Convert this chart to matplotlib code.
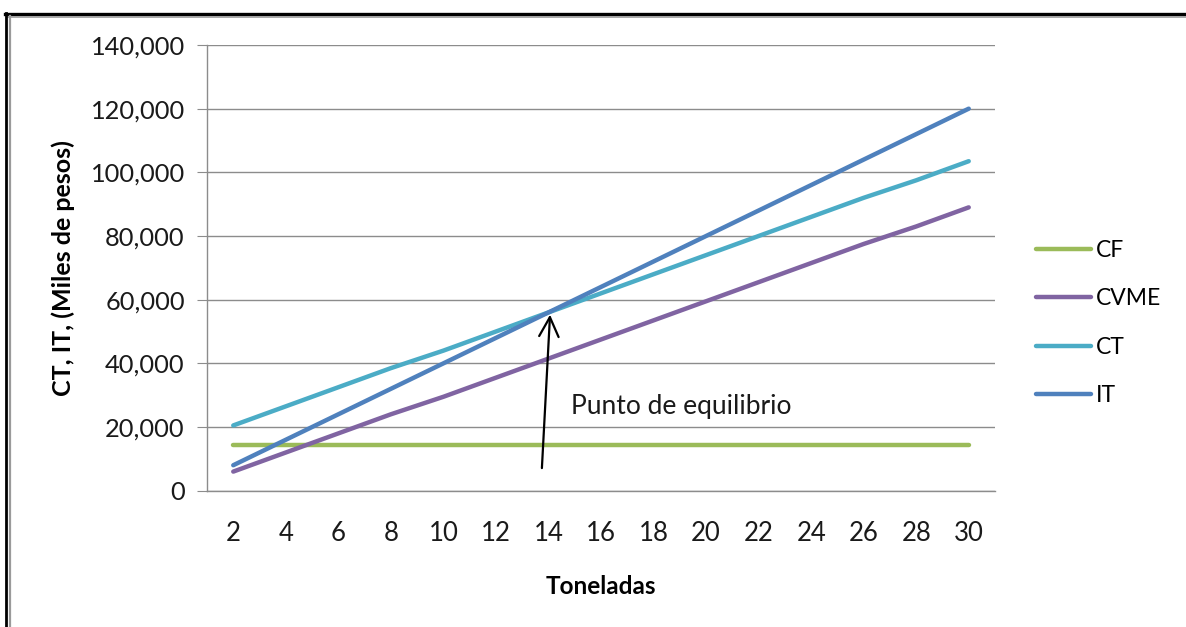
import matplotlib
matplotlib.use("Agg")
import matplotlib.pyplot as plt
from matplotlib.lines import Line2D
from matplotlib.ticker import FuncFormatter

# Toneladas producidas
toneladas = [2, 4, 6, 8, 10, 12, 14, 16, 18, 20, 22, 24, 26, 28, 30]

# Costos e ingresos (miles de pesos)
cf = [14500, 14500, 14500, 14500, 14500, 14500, 14500, 14500,
      14500, 14500, 14500, 14500, 14500, 14500, 14500]
cvme = [6000, 12000, 18000, 24000, 29500, 35500, 41500, 47500,
        53500, 59500, 65500, 71500, 77500, 83000, 89000]
ct = [20500, 26500, 32500, 38500, 44000, 50000, 56000, 62000,
      68000, 74000, 80000, 86000, 92000, 97500, 103500]
it = [8000, 16000, 24000, 32000, 40000, 48000, 56000, 64000,
      72000, 80000, 88000, 96000, 104000, 112000, 120000]

series_names = ["CF", "CVME", "CT", "IT"]
series_colors = ["#9BBB59", "#8064A2", "#4BACC6", "#4F81BD"]

y_ticks = [0, 20000, 40000, 60000, 80000, 100000, 120000, 140000]

FONT = "Lato"
plt.rcParams["font.family"] = [FONT, "DejaVu Sans"]

W, H = 1186, 627
fig = plt.figure(figsize=(W / 100, H / 100), dpi=100)
fig.patch.set_facecolor("white")

ax = fig.add_axes([207 / W, 1 - 490.7 / H, (995 - 207) / W, (490.7 - 45) / H])

for vals, name, col in zip([cf, cvme, ct, it], series_names, series_colors):
    ax.plot(toneladas, vals, color=col, lw=3.2, solid_capstyle="round",
            label=name, zorder=3)

ax.set_xlim(1, 31)
ax.set_ylim(0, 140000)
ax.set_xticks(toneladas)
ax.set_yticks(y_ticks)
ax.yaxis.set_major_formatter(FuncFormatter(lambda v, p: f"{int(v):,}"))

ax.grid(axis="y", color="#8c8c8c", lw=1.0, zorder=0)
ax.set_axisbelow(True)
for side in ["top", "right"]:
    ax.spines[side].set_visible(False)
ax.spines["left"].set_color("#8c8c8c")
ax.spines["bottom"].set_color("#8c8c8c")
ax.spines["left"].set_linewidth(1.0)
ax.spines["bottom"].set_linewidth(1.0)

ax.tick_params(axis="y", length=7, color="#8c8c8c", labelsize=18.3,
               labelcolor="#1a1a1a", pad=9)
ax.tick_params(axis="x", length=0, labelsize=18.5, labelcolor="#1a1a1a", pad=22)

ax.set_xlabel("Toneladas", fontsize=17.5, fontweight="bold", labelpad=21)
ax.set_ylabel("CT, IT, (Miles de pesos)", fontsize=18, fontweight="bold",
              labelpad=11)

# Punto de equilibrio
ax.annotate("", xy=(14.06, 55300), xytext=(13.75, 7100),
            arrowprops=dict(arrowstyle="->,head_length=0.7,head_width=0.35",
                            lw=1.6, color="black", mutation_scale=20,
                            shrinkA=0, shrinkB=0), zorder=5)
ax.text(14.85, 26300, "Punto de equilibrio", fontsize=19, color="#1a1a1a",
        va="center", ha="left")

handles = [Line2D([], [], color=c, lw=3.2, solid_capstyle="round")
           for c in series_colors]
fig.legend(handles, series_names, loc="center left",
           bbox_to_anchor=(1025 / W, 1 - 323 / H), frameon=False,
           fontsize=16.5, handlelength=2.4, handletextpad=0.2,
           labelspacing=1.2, borderpad=0)

# Frame around the chart
fig.add_artist(Line2D([5 / W, 1], [1 - 14 / H, 1 - 14 / H], color="black",
                      lw=2.4, transform=fig.transFigure))
fig.add_artist(Line2D([8 / W, 1], [1 - 17 / H, 1 - 17 / H], color="#9a9a9a",
                      lw=1.2, transform=fig.transFigure))
fig.add_artist(Line2D([6 / W, 6 / W], [0, 1 - 13 / H], color="black",
                      lw=2.0, transform=fig.transFigure))
fig.add_artist(Line2D([9.5 / W, 9.5 / W], [0, 1 - 16 / H], color="#9a9a9a",
                      lw=1.6, transform=fig.transFigure))

fig.savefig("out.png", dpi=100, facecolor="white")
